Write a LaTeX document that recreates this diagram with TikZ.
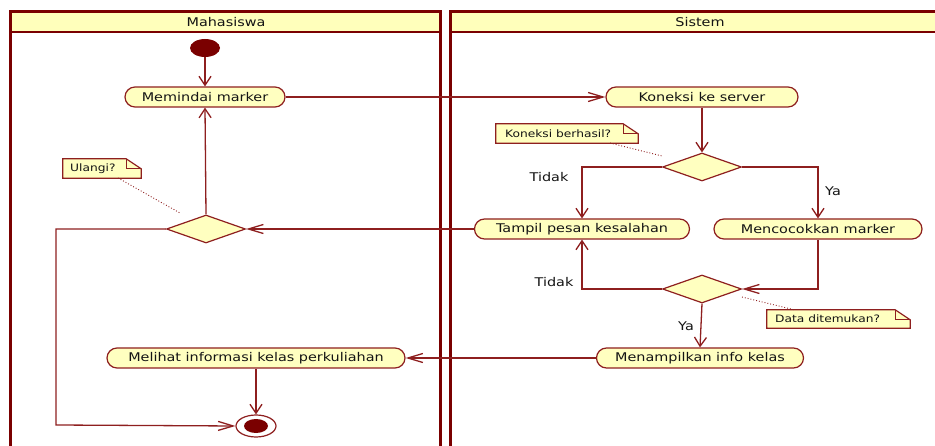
\documentclass[tikz,border=0pt]{standalone}
\usepackage{fontspec}
\setmainfont{DejaVu Sans}[FakeStretch=1.2]
\usetikzlibrary{arrows.meta,shapes.misc,shapes.geometric}
\definecolor{lanec}{HTML}{7A0000}
\definecolor{linec}{HTML}{8E1F1F}
\definecolor{nodefill}{HTML}{FFFFC0}
\definecolor{hdrfill}{HTML}{FFFFBB}
\definecolor{txtc}{HTML}{141414}
\tikzset{
  lane/.style={draw=lanec, line width=3pt},
  lanethin/.style={draw=lanec, line width=1.8pt},
  act/.style={rounded rectangle, draw=linec, line width=1.2pt, fill=nodefill,
    minimum height=20pt, inner sep=0pt, text=txtc, font=\fontsize{12}{14}\selectfont},
  decision/.style={diamond, draw=linec, line width=1.2pt, fill=nodefill,
    minimum width=79pt, minimum height=28pt, inner sep=0pt},
  notetext/.style={inner sep=0pt, text=txtc, font=\fontsize{10.2}{12}\selectfont},
  notebox/.style={draw=linec, line width=1.2pt, fill=nodefill},
  lbl/.style={text=txtc, font=\fontsize{12}{14}\selectfont, inner sep=0pt},
  conn/.style={draw=linec, line width=1.3pt},
  varrow/.style={conn, -{Straight Barb[length=9pt,width=12pt,line width=1.3pt]}},
  harrow/.style={conn, -{Straight Barb[length=15pt,width=9pt,line width=1.3pt]}},
  notelink/.style={draw=linec, line width=0.9pt, dotted},
}
\newcommand{\notefold}[3]{% node name, fold x, fold y
  \filldraw[notebox] (#1.south west) -- (#1.north west) -- ([xshift=-#2]#1.north east)
     -- ([yshift=-#3]#1.north east) -- (#1.south east) -- cycle;
  \draw[notebox, fill=none] ([xshift=-#2]#1.north east) -- ([xshift=-#2,yshift=-#3]#1.north east)
     -- ([yshift=-#3]#1.north east);
}
\begin{document}
\begin{tikzpicture}[x=1pt,y=-1pt]
\useasboundingbox (0,0) rectangle (935,446);
% swimlanes
\fill[hdrfill] (10,12) rectangle (440,32);
\fill[hdrfill] (450,12) rectangle (945,32);
\draw[lanethin] (10,32) -- (440,32);
\draw[lanethin] (450,32) -- (945,32);
\draw[lane] (10,450) -- (10,12) -- (440,12) -- (440,450);
\draw[lane] (450,450) -- (450,12) -- (945,12);
\node[lbl] (hm) at (226,22) {Mahasiswa};
\node[lbl] (hs) at (700,22) {Sistem};

% nodes
\node[ellipse, fill=lanec, minimum width=30pt, minimum height=18pt, inner sep=0pt] (start) at (205,48) {};
\node[act, minimum width=160pt] (mem) at (205,97) {Memindai marker};
\node[act, minimum width=192pt] (kon) at (702,97) {Koneksi ke server};
\node[decision] (d1) at (702,167) {};
\node[act, minimum width=215pt] (tam) at (582,229) {Tampil pesan kesalahan};
\node[act, minimum width=208pt] (mc) at (818,229) {Mencocokkan marker};
\node[decision] (d2) at (702,289) {};
\node[act, minimum width=207pt] (men) at (700,358) {Menampilkan info kelas};
\node[act, minimum width=298pt] (mel) at (256,358) {Melihat informasi kelas perkuliahan};
\node[decision] (d3) at (206,229) {};
\node[ellipse, draw=linec, line width=1.2pt, fill=white, minimum width=40pt, minimum height=22pt, inner sep=0pt] (end) at (256,426) {};
\fill[lanec] (end.center) ellipse [x radius=12pt, y radius=7pt];

% notes
\node[notetext, minimum width=142pt, minimum height=19pt] (n1) at (567,133.5) {};
\notefold{n1}{15pt}{10pt}
\node[notetext, anchor=west] (n1t) at (505,133.5) {Koneksi berhasil?};
\node[notetext, minimum width=78pt, minimum height=19pt] (n2) at (102,168.5) {};
\notefold{n2}{15pt}{10pt}
\node[notetext, anchor=west] (n2t) at (70,168.5) {Ulangi?};
\node[notetext, minimum width=143pt, minimum height=18pt] (n3) at (838.5,319) {};
\notefold{n3}{15pt}{10pt}
\node[notetext, anchor=west] (n3t) at (775,319) {Data ditemukan?};

\coordinate (l1) at (610,143);
\coordinate (l1b) at (662,156);
\draw[notelink] (l1) -- (l1b);
\coordinate (l2) at (118,178);
\coordinate (l2b) at (180,213);
\draw[notelink] (l2) -- (l2b);
\coordinate (l3) at (742,297);
\coordinate (l3b) at (795,310);
\draw[notelink] (l3) -- (l3b);

% connectors
\draw[varrow] (start) -- (mem.north);
\draw[harrow] (mem.east) -- (kon.west);
\draw[varrow] (kon.south) -- (d1.north);
\draw[varrow] (d1.west) -| (tam.north);
\draw[varrow] (d1.east) -| (mc.north);
\draw[harrow] (mc.south) |- (d2.east);
\draw[varrow] (d2.west) -| (tam.south);
\draw[varrow] (d2.south) -- (men.north);
\draw[harrow] (men.west) -- (mel.east);
\draw[harrow] (tam.west) -- (d3.east);
\draw[varrow] (d3.north) -- (mem.south);
\coordinate (c1) at (56,425);
\draw[harrow] (d3.west) -| (c1) -- (end.west);
\draw[varrow] (mel.south) -- (end.north);

% labels
\node[lbl] (t1) at (549,177) {Tidak};
\node[lbl] (y1) at (833,191) {Ya};
\node[lbl] (t2) at (554,282) {Tidak};
\node[lbl] (y2) at (686,326) {Ya};
\end{tikzpicture}
\end{document}
